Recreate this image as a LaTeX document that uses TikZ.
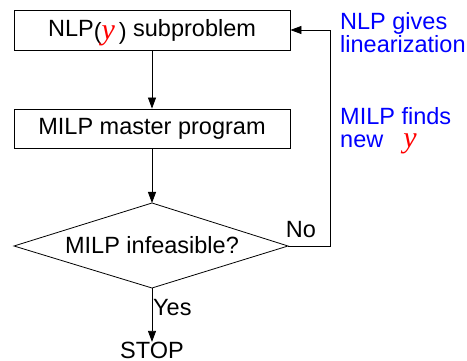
\documentclass[tikz,border=0pt]{standalone}
\usepackage{fontspec}
\setmainfont{Liberation Sans}
\newfontfamily\yfont{Liberation Serif}
\usetikzlibrary{arrows.meta}
\newcommand{\vary}{{\yfont\itshape\fontsize{30}{30}\selectfont\color{red}y}}
\tikzset{
  txt/.style={font=\fontsize{23.5}{23}\selectfont, inner sep=0pt},
  procbox/.style={txt, draw, line width=0.8pt, minimum width=276pt, minimum height=40pt},
  flow/.style={line width=0.8pt, -{Triangle[length=11pt,width=8pt]}},
  note/.style={txt, text=blue, align=left},
}
\begin{document}
\begin{tikzpicture}[x=1pt,y=-1pt]
\useasboundingbox (0,0) rectangle (467,361);
% process boxes
\node[procbox] (nlp) at (152,30) {NLP\raisebox{-3pt}[0pt][0pt]{(\vary\,)} subproblem};
\node[procbox, minimum height=39pt] (milp) at (152,128.5) {MILP master program};
% decision diamond
\coordinate (dt) at (152,203);
\coordinate (dl) at (14,246);
\coordinate (dr) at (288,246);
\coordinate (db) at (152,288);
\draw[line width=0.8pt] (dt) -- (dr) -- (db) -- (dl) -- cycle;
\node[txt] (dtext) at (152,245) {MILP infeasible?};
% stop
\node[txt, anchor=base] (stop) at (152,358.5) {STOP};
% connectors
\draw[flow] (nlp) -- (milp);
\draw[flow] (milp) -- (dt);
\draw[flow] (db) -- (stop.north);
\coordinate (corner) at (330,246);
\draw[flow] (dr) -- (corner) |- (nlp.east);
% branch labels
\node[txt, anchor=base] (no) at (301,238) {No};
\node[txt, anchor=base west] (yes) at (153,316) {Yes};
% side notes (anchored at the baseline of the second line)
\node[note, anchor=base west] (n1) at (340,53) {NLP gives\\linearization};
\node[note, anchor=base west] (n2) at (340,148) {MILP finds\\new\hspace{20pt}\raisebox{0pt}[0pt][0pt]{\vary}};
\end{tikzpicture}
\end{document}
